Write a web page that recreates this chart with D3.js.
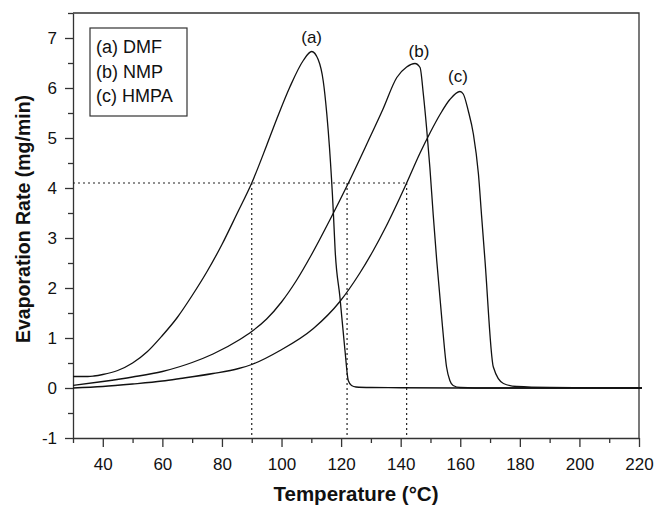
<!DOCTYPE html>
<html>
<head>
<meta charset="utf-8">
<script src="https://cdn.jsdelivr.net/npm/d3@7"></script>
<style>
  body { margin: 0; background: #fff; }
  svg { display: block; font-family: Arial, "Liberation Sans", sans-serif; }
  .axis path, .axis line { stroke: #333; stroke-width: 1.3; }
  .axis text { font-size: 17px; fill: #111; }
</style>
</head>
<body>
<div id="svg-container"></div>
<script>
// data
const tempA = [30, 35, 37, 40, 45, 50, 55, 60, 65, 70, 75, 80, 85, 90, 95, 98.4, 102.8, 107.3, 110.1, 112.3, 114, 115.2, 116.1, 117.4, 118, 119.6, 121.3, 122.4, 123.5, 125, 130, 140, 160, 221];
const rateA = [0.23, 0.23, 0.24, 0.27, 0.35, 0.5, 0.73, 1.05, 1.41, 1.85, 2.33, 2.87, 3.48, 4.1, 4.85, 5.38, 6.02, 6.55, 6.73, 6.57, 6.14, 5.48, 4.81, 3.51, 2.75, 1.82, 0.75, 0.15, 0.05, 0.02, 0.01, 0.005, 0, 0];

const tempB = [30, 40, 50, 60, 66, 70, 77, 86, 90, 95, 100, 105, 110, 116.3, 122.2, 129.1, 134, 138.7, 142, 144.8, 146.5, 147.6, 148.7, 149.8, 150.9, 152.1, 154, 155.4, 156.5, 157.6, 160, 170, 221];
const rateB = [0.05, 0.13, 0.22, 0.33, 0.43, 0.51, 0.68, 0.97, 1.13, 1.38, 1.72, 2.15, 2.66, 3.37, 4.07, 4.94, 5.57, 6.21, 6.42, 6.49, 6.41, 5.88, 5.2, 4.41, 3.48, 2.55, 1.25, 0.42, 0.15, 0.05, 0.01, 0, 0];

const tempC = [30, 40, 50, 60, 66, 77, 85.6, 90, 99.5, 110.7, 119.6, 126.3, 130.8, 135, 141.7, 146.5, 150, 153.2, 156.5, 159.9, 161, 162.7, 164.4, 166.1, 167.2, 168.3, 171.1, 174.5, 179, 190, 221];
const rateC = [0.0, 0.03, 0.08, 0.14, 0.19, 0.29, 0.39, 0.47, 0.75, 1.19, 1.73, 2.3, 2.75, 3.22, 4.06, 4.7, 5.12, 5.47, 5.77, 5.93, 5.88, 5.54, 5.08, 4.28, 3.41, 2.55, 0.42, 0.09, 0.03, 0.01, 0];

const seriesNames = ["(a) DMF", "(b) NMP", "(c) HMPA"];
const peakLabels = ["(a)", "(b)", "(c)"];

// dotted guide lines
const refRate = 4.1;
const refTemps = [90, 122, 142];

const xMajor = [40, 60, 80, 100, 120, 140, 160, 180, 200, 220];
const xMinor = [30, 50, 70, 90, 110, 130, 150, 170, 190, 210];
const yMajor = [-1, 0, 1, 2, 3, 4, 5, 6, 7];
const yMinor = [-0.5, 0.5, 1.5, 2.5, 3.5, 4.5, 5.5, 6.5, 7.5];

////////////////////////////  Init  ////////////////////////////
const width = 657;
const height = 506;
const margin = { top: 13, right: 18, bottom: 68, left: 73 };

const svg = d3.select("#svg-container").append("svg")
  .attr("width", width)
  .attr("height", height);

const xScale = d3.scaleLinear().domain([30, 220]).range([margin.left, width - margin.right]);
const yScale = d3.scaleLinear().domain([-1, 7.5]).range([height - margin.bottom, margin.top]);

const series = [
  { temp: tempA, rate: rateA },
  { temp: tempB, rate: rateB },
  { temp: tempC, rate: rateC }
].map((s) => s.temp.map((t, i) => ({ t: t, r: s.rate[i] })));

// clip so the lines stop near the frame
svg.append("clipPath").attr("id", "clip")
  .append("rect")
  .attr("x", margin.left)
  .attr("y", margin.top)
  .attr("width", width - margin.right - margin.left + 4)
  .attr("height", height - margin.bottom - margin.top);

// axes
const xAxis = d3.axisBottom(xScale).tickValues(xMajor).tickSize(9).tickPadding(11).tickSizeOuter(0);
const xAxisMinor = d3.axisBottom(xScale).tickValues(xMinor).tickSize(5).tickFormat("");
const yAxis = d3.axisLeft(yScale).tickValues(yMajor).tickSize(8).tickPadding(8).tickSizeOuter(0).tickFormat((d) => String(d));
const yAxisMinor = d3.axisLeft(yScale).tickValues(yMinor).tickSize(5).tickFormat("");

svg.append("g").attr("class", "axis")
  .attr("transform", `translate(0,${height - margin.bottom})`)
  .call(xAxisMinor)
  .call((g) => g.select(".domain").remove());
svg.append("g").attr("class", "axis x-axis")
  .attr("transform", `translate(0,${height - margin.bottom})`)
  .call(xAxis);

svg.append("g").attr("class", "axis")
  .attr("transform", `translate(${margin.left},0)`)
  .call(yAxisMinor)
  .call((g) => g.select(".domain").remove());
svg.append("g").attr("class", "axis y-axis")
  .attr("transform", `translate(${margin.left},0)`)
  .call(yAxis);

// top and right frame
svg.append("path")
  .attr("d", `M${margin.left},${margin.top}H${width - margin.right}V${height - margin.bottom}`)
  .attr("fill", "none")
  .attr("stroke", "#333")
  .attr("stroke-width", 1.3);

// dotted guides
const guides = svg.append("g")
  .attr("fill", "none")
  .attr("stroke", "#222")
  .attr("stroke-width", 1.2)
  .attr("stroke-dasharray", "2,3");

guides.append("line")
  .attr("x1", xScale(30)).attr("x2", xScale(d3.max(refTemps)))
  .attr("y1", yScale(refRate)).attr("y2", yScale(refRate));

guides.selectAll(".vline")
  .data(refTemps)
  .join("line")
  .attr("class", "vline")
  .attr("x1", (d) => xScale(d)).attr("x2", (d) => xScale(d))
  .attr("y1", yScale(refRate)).attr("y2", yScale(-1));

// curves
const line = d3.line()
  .x((d) => xScale(d.t))
  .y((d) => yScale(d.r))
  .curve(d3.curveMonotoneX);

svg.append("g")
  .attr("clip-path", "url(#clip)")
  .selectAll("path")
  .data(series)
  .join("path")
  .attr("d", line)
  .attr("fill", "none")
  .attr("stroke", "#111")
  .attr("stroke-width", 1.3);

// peak labels
const labelDx = [0, 4, -2];
const labelDy = [-9, -7, -10];
svg.selectAll(".peak")
  .data(series)
  .join("text")
  .attr("class", "peak")
  .attr("x", (d, i) => xScale(d3.greatest(d, (p) => p.r).t) + labelDx[i])
  .attr("y", (d, i) => yScale(d3.max(d, (p) => p.r)) + labelDy[i])
  .attr("text-anchor", "middle")
  .attr("font-size", 17)
  .attr("fill", "#111")
  .text((d, i) => peakLabels[i]);

// legend
const legend = svg.append("g").attr("transform", "translate(90,28)");
legend.append("rect")
  .attr("width", 97)
  .attr("height", 88)
  .attr("fill", "#fff")
  .attr("stroke", "#333")
  .attr("stroke-width", 1.2);
legend.selectAll("text")
  .data(seriesNames)
  .join("text")
  .attr("x", 6)
  .attr("y", (d, i) => 25 + i * 24.5)
  .attr("font-size", 18)
  .attr("fill", "#111")
  .text((d) => d);

// axis titles
svg.append("text")
  .attr("x", (margin.left + width - margin.right) / 2)
  .attr("y", 501)
  .attr("text-anchor", "middle")
  .attr("font-size", 20.5)
  .attr("font-weight", "bold")
  .attr("fill", "#111")
  .text("Temperature (°C)");

svg.append("text")
  .attr("transform", "translate(30,219) rotate(-90)")
  .attr("text-anchor", "middle")
  .attr("font-size", 19.5)
  .attr("font-weight", "bold")
  .attr("fill", "#111")
  .text("Evaporation Rate (mg/min)");
</script>
</body>
</html>
